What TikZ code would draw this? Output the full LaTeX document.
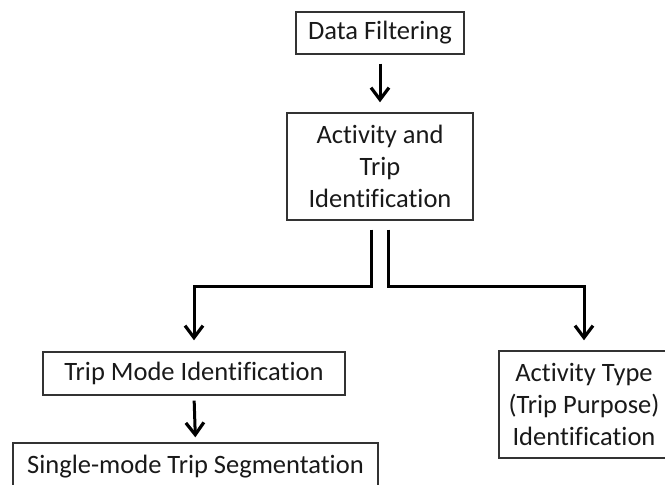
\documentclass[tikz,border=0pt]{standalone}
\usepackage{fontspec}
\setmainfont{Carlito}[Ligatures=NoCommon]
\usetikzlibrary{arrows.meta}
\begin{document}
\begin{tikzpicture}[x=1pt,y=-1pt,
  box/.style={draw=black!80, line width=1.4pt, inner sep=0pt, align=center,
    font=\fontsize{26.5}{32}\selectfont, text=black!90},
  conn/.style={line width=3pt, line join=miter,
    -{Straight Barb[length=12pt,width=18pt,line width=3.2pt]}}]
\useasboundingbox (0,0) rectangle (665,485);
\clip (0,0) rectangle (665,485);
\node[box, minimum width=168pt, minimum height=42pt] (df) at (380,33) {Data Filtering};
\node[box, minimum width=186pt, minimum height=107pt] (act) at (380,166.5) {Activity and\\Trip\\Identification};
\node[box, minimum width=302pt, minimum height=43pt] (tm) at (194,373.5) {Trip Mode Identification};
\node[box, minimum width=365pt, minimum height=46pt, text depth=4pt] (sm) at (195.5,466) {Single-mode Trip Segmentation};
\node[box, minimum width=170pt, minimum height=107pt] (at) at (584,404.5) {Activity Type\\(Trip Purpose)\\Identification};
\draw[conn, shorten <=9pt, shorten >=10pt] (df.south) -- (act.north);
\draw[conn, shorten >=11pt] ([xshift=-8.5pt,yshift=-9pt]act.south) -- ++(0,57) -| (tm.north);
\draw[conn, shorten >=10pt] ([xshift=8.5pt,yshift=-9pt]act.south) -- ++(0,57) -| (at.north);
\draw[conn, shorten <=5pt, shorten >=5pt] (tm.south) -- (sm.north);
\end{tikzpicture}
\end{document}
